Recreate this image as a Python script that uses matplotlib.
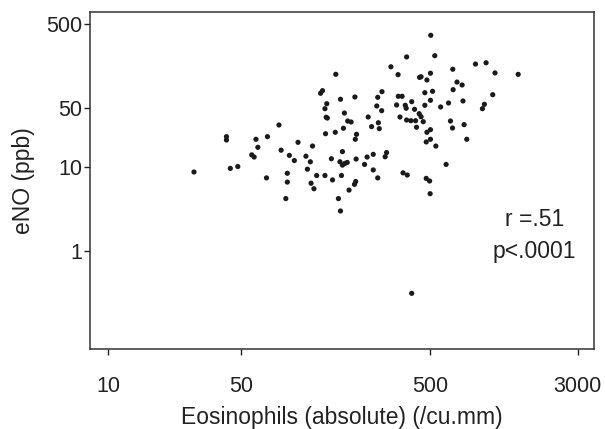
import matplotlib
matplotlib.use("Agg")
import matplotlib.pyplot as plt
from matplotlib.ticker import FixedLocator, FixedFormatter, NullLocator

plt.rcParams['font.family'] = ['Liberation Sans', 'DejaVu Sans']

# Eosinophils (absolute, /cu.mm) vs exhaled NO (ppb)
eos = [
    158.6, 131.8, 134.9, 167.9, 142.1, 139.0, 176.1, 141.1, 143.1, 183.3,
    79.5, 174.0, 140.0, 157.6, 42.0, 42.0, 69.1, 60.1, 100.2, 119.5, 61.5,
    81.6, 171.9, 90.2, 57.1, 58.8, 110.3, 150.3, 95.8, 116.4, 166.8, 171.9,
    177.1, 182.2, 28.3, 44.0, 48.2, 112.3, 88.0, 125.7, 139.0, 169.9, 68.3,
    152.4, 88.0, 117.4, 121.6, 186.3, 86.4, 163.7, 167.9,
    503, 375, 528, 310, 338, 439, 447, 480, 501, 657, 866, 985, 1098, 1455,
    692, 736, 660, 278, 264, 200, 339, 355, 468, 514, 1068, 501, 399, 468,
    332, 369, 373, 567, 624, 744, 965, 942, 261, 277, 413, 437, 447, 459,
    191, 235, 346, 375, 395, 418, 266, 245, 269, 423, 639, 655, 754, 480,
    501, 204, 201, 501, 476, 535, 779, 294, 289, 250, 232, 203, 225, 606,
    250, 264, 359, 378, 476, 496, 202, 199, 499, 399,
]
eno = [
    126.2, 75.0, 80.6, 63.7, 56.4, 49.2, 43.7, 38.9, 38.1, 35.1, 31.5, 28.8,
    24.8, 25.8, 22.9, 20.9, 22.9, 21.3, 19.6, 17.7, 17.1, 15.8, 15.2, 13.7,
    13.9, 13.1, 13.4, 12.5, 11.9, 11.5, 11.5, 10.5, 11.0, 11.3, 8.7, 9.6,
    10.1, 9.4, 8.4, 7.9, 7.9, 7.9, 7.4, 7.0, 6.6, 6.4, 5.5, 5.3, 4.2, 4.2,
    2.99,
    367, 203, 210, 155, 125, 116, 118, 108, 130, 145, 167, 173, 131, 126,
    102, 94.2, 82.8, 78.4, 67.2, 67.8, 69.1, 69.1, 76.2, 79.2, 72.2, 61.9,
    59.6, 54.0, 54.5, 54.0, 49.8, 51.6, 57.5, 60.8, 55.5, 49.2, 53.0, 46.6,
    48.4, 42.9, 39.5, 34.5, 34.2, 39.2, 39.2, 36.1, 35.4, 35.4, 33.5, 30.1,
    28.5, 29.6, 35.1, 29.0, 31.8, 25.8, 27.7, 24.4, 21.3, 21.3, 19.8, 17.7,
    21.3, 14.8, 13.2, 14.1, 13.1, 12.4, 10.7, 10.7, 9.2, 7.4, 8.5, 8.0,
    7.3, 6.8, 6.7, 6.2, 4.8, 0.314,
]

x_ticks = [10, 50, 500, 3000]
y_ticks = [1, 10, 50, 500]
stats_text = ["r =.51", "p<.0001"]

fig = plt.figure(figsize=(6.05, 4.29), dpi=100)
ax = fig.add_axes([0.1488, 0.1865, 0.833, 0.7862])

ax.scatter(eos, eno, s=14, color="#1a1a1a", edgecolors="none")

ax.set_xscale("log")
ax.set_yscale("log")
ax.set_xlim(8.0, 3656)
ax.set_ylim(0.0684, 700)

ax.xaxis.set_major_locator(FixedLocator(x_ticks))
ax.xaxis.set_major_formatter(FixedFormatter([str(t) for t in x_ticks]))
ax.xaxis.set_minor_locator(NullLocator())
ax.yaxis.set_major_locator(FixedLocator(y_ticks))
ax.yaxis.set_major_formatter(FixedFormatter([str(t) for t in y_ticks]))
ax.yaxis.set_minor_locator(NullLocator())

ax.tick_params(axis="x", direction="out", length=4.3, width=1, pad=15,
               labelsize=15.5, colors="#222222")
ax.tick_params(axis="y", direction="out", length=4.3, width=1, pad=1.5,
               labelsize=15.5, colors="#222222")
for sp in ax.spines.values():
    sp.set_linewidth(1.1)
    sp.set_color("#333333")

ax.set_xlabel("Eosinophils (absolute) (/cu.mm)", fontsize=16.5,
              color="#222222")
ax.xaxis.set_label_coords(0.5, -0.168)
ax.set_ylabel("eNO (ppb)", fontsize=16.5, color="#222222", labelpad=8)

ax.text(0.882, 0.3854, stats_text[0], transform=ax.transAxes,
        ha="center", va="center", fontsize=16.5, color="#222222")
ax.text(0.882, 0.2876, stats_text[1], transform=ax.transAxes,
        ha="center", va="center", fontsize=16.5, color="#222222")

fig.savefig("out.png", dpi=100)
